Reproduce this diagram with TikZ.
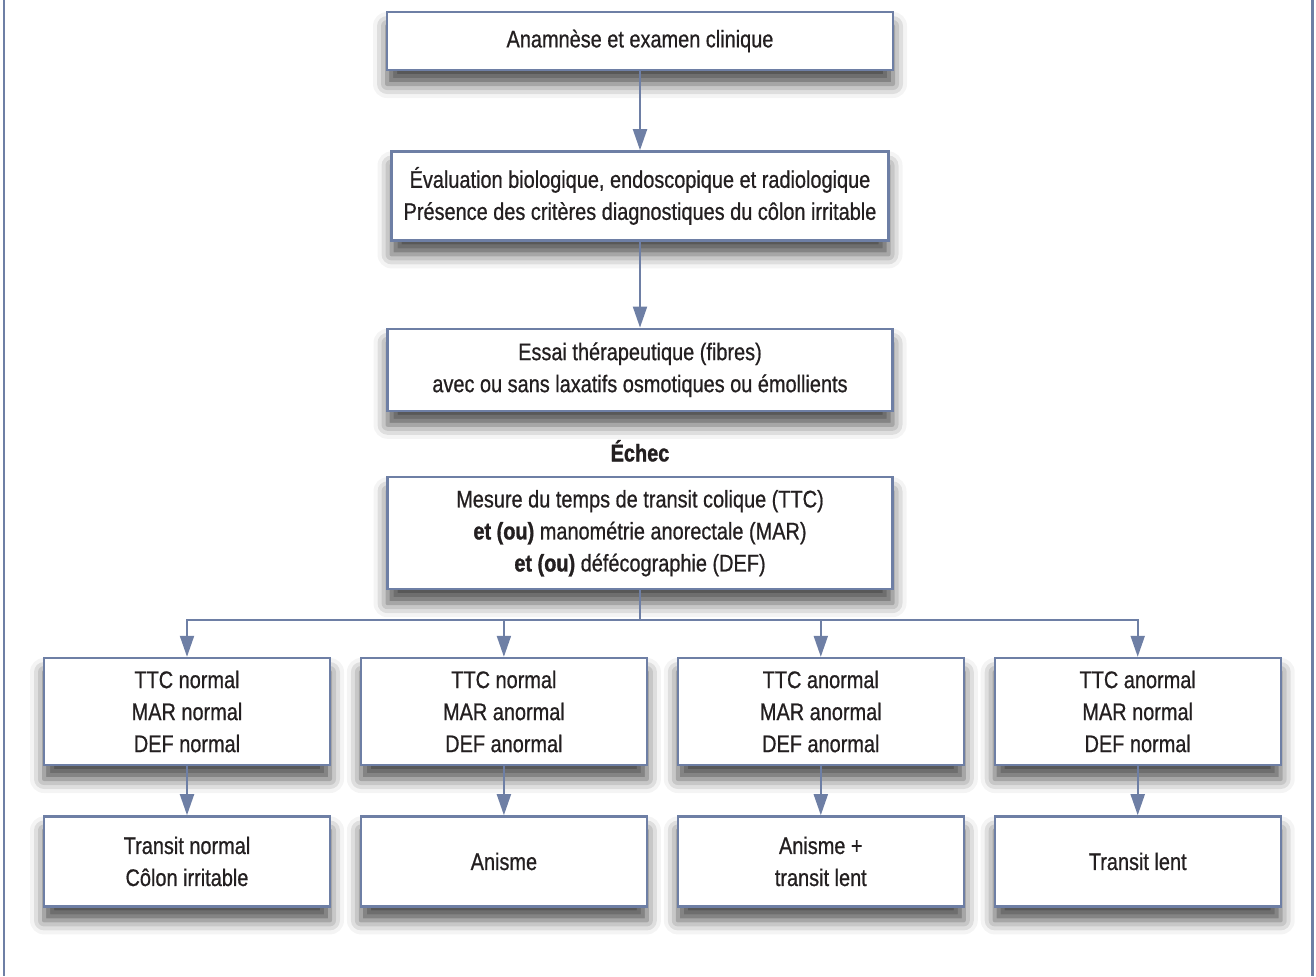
\documentclass[tikz,border=0pt]{standalone}
\usepackage{fontspec}
\setmainfont{Liberation Sans}[FakeStretch=0.83,FakeBold=0.7,BoldFeatures={FakeBold=1.2}]
\usepackage{xcolor}
\usepackage{tikz}
\usetikzlibrary{positioning,arrows.meta,shadows.blur}
\definecolor{edge}{HTML}{6E7FA5}
\definecolor{ink}{HTML}{231F20}
\tikzset{
  box/.style={rectangle,draw=edge,line width=1.2pt,fill=white,align=center,
    font=\fontsize{12}{16}\selectfont,text=ink,inner sep=2pt,
    blur shadow={shadow xshift=0pt,shadow yshift=-7pt,shadow blur radius=7pt,shadow opacity=70}},
  cbox/.style={box,minimum width=143pt,minimum height=53.5pt},
  rbox/.style={box,minimum width=143pt,minimum height=45pt},
  lbl/.style={font=\bfseries\fontsize{12}{16}\selectfont,text=ink,inner sep=0pt},
  fl/.style={-{Triangle[length=10.5pt,width=7pt]},draw=edge,line width=1pt},
  ln/.style={draw=edge,line width=1pt},
}

\begin{document}
\begin{tikzpicture}
  \useasboundingbox (0,0) rectangle (658pt,-488pt);
  \draw[edge,line width=1.2pt] (2pt,0) -- (2pt,-488pt);
  \draw[edge,line width=1.2pt] (656.25pt,0) -- (656.25pt,-488pt);
  \node[box,minimum width=253pt,minimum height=29pt] (anam) at (320pt,-20.5pt) {Anamnèse et examen clinique};
  \node[box,minimum width=248.5pt,minimum height=44.5pt,below=39.5pt of anam] (eval) {Évaluation biologique, endoscopique et radiologique\\Présence des critères diagnostiques du côlon irritable};
  \node[box,minimum width=252.5pt,minimum height=41pt,below=43pt of eval] (essai) {Essai thérapeutique (fibres)\\avec ou sans laxatifs osmotiques ou émollients};
  \node[box,minimum width=252.5pt,minimum height=56pt,below=32pt of essai] (mesure) {Mesure du temps de transit colique (TTC)\\\textbf{et (ou)} manométrie anorectale (MAR)\\\textbf{et (ou)} défécographie (DEF)};
  \node[lbl,above=7pt of mesure] (echec) {Échec};
  \coordinate[below=15pt of mesure.south] (split);
  \node[cbox] (c1) at (93.5pt,-355.75pt) {TTC normal\\MAR normal\\DEF normal};
  \node[cbox,right=14.25pt of c1] (c2) {TTC normal\\MAR anormal\\DEF anormal};
  \node[cbox,right=14.25pt of c2] (c3) {TTC anormal\\MAR anormal\\DEF anormal};
  \node[cbox,right=14.25pt of c3] (c4) {TTC anormal\\MAR normal\\DEF normal};
  \node[rbox,below=24.5pt of c1] (r1) {Transit normal\\Côlon irritable};
  \node[rbox,below=24.5pt of c2] (r2) {Anisme};
  \node[rbox,below=24.5pt of c3] (r3) {Anisme +\\transit lent};
  \node[rbox,below=24.5pt of c4] (r4) {Transit lent};
  \draw[fl] (anam)--(eval); \draw[fl] (eval)--(essai);
  \draw[ln] (mesure.south)--(split);
  \draw[fl] (split) -| (c1); \draw[fl] (split) -| (c2);
  \draw[fl] (split) -| (c3); \draw[fl] (split) -| (c4);
  \draw[fl] (c1)--(r1); \draw[fl] (c2)--(r2);
  \draw[fl] (c3)--(r3); \draw[fl] (c4)--(r4);
\end{tikzpicture}
\end{document}
